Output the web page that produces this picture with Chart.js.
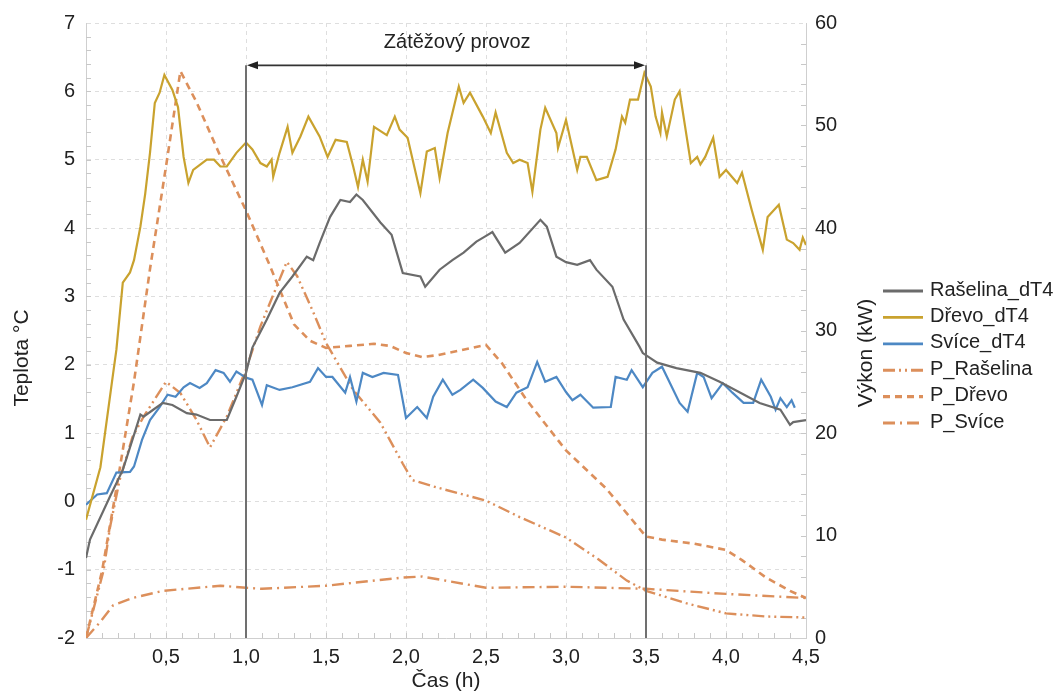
<!DOCTYPE html>
<html>
<head>
<meta charset="utf-8">
<script src="https://cdn.jsdelivr.net/npm/chart.js@4.4.1/dist/chart.umd.min.js"></script>
<style>
  html, body { margin: 0; padding: 0; background: #fff; }
  canvas { display: block; }
</style>
</head>
<body>
<canvas id="chart" width="1060" height="693"></canvas>
<script>
// čas (h) a hodnoty
const raselinaDT4 = [[0,-0.83],[0.025,-0.56],[0.15,0.07],[0.23,0.46],[0.29,0.9],[0.34,1.27],[0.36,1.24],[0.42,1.34],[0.48,1.44],[0.54,1.41],[0.63,1.29],[0.69,1.27],[0.775,1.19],[0.84,1.19],[0.88,1.19],[0.94,1.53],[1.0,1.88],[1.04,2.25],[1.13,2.66],[1.21,3.05],[1.29,3.29],[1.38,3.58],[1.42,3.53],[1.46,3.78],[1.525,4.16],[1.59,4.41],[1.65,4.38],[1.69,4.49],[1.73,4.41],[1.84,4.08],[1.91,3.9],[1.98,3.34],[2.09,3.29],[2.12,3.14],[2.21,3.39],[2.29,3.53],[2.36,3.64],[2.44,3.8],[2.49,3.87],[2.54,3.94],[2.62,3.64],[2.71,3.78],[2.84,4.12],[2.88,4.02],[2.94,3.58],[3.0,3.5],[3.07,3.46],[3.15,3.53],[3.19,3.39],[3.29,3.14],[3.36,2.66],[3.46,2.26],[3.48,2.17],[3.57,2.03],[3.69,1.95],[3.84,1.88],[3.96,1.75],[4.09,1.59],[4.21,1.44],[4.34,1.34],[4.4,1.12],[4.42,1.16],[4.5,1.19]];

const drevoDT4 = [[0,-0.27],[0.09,0.5],[0.17,1.88],[0.19,2.22],[0.23,3.2],[0.275,3.35],[0.3,3.53],[0.34,4.02],[0.37,4.5],[0.4,5.1],[0.43,5.83],[0.46,5.98],[0.49,6.24],[0.54,6.02],[0.575,5.77],[0.61,5.04],[0.64,4.66],[0.67,4.85],[0.755,5.0],[0.8,5.0],[0.84,4.9],[0.88,4.9],[0.94,5.1],[1.0,5.25],[1.04,5.15],[1.09,4.95],[1.13,4.9],[1.16,5.0],[1.17,4.75],[1.21,5.1],[1.26,5.48],[1.29,5.1],[1.34,5.34],[1.39,5.63],[1.46,5.34],[1.51,5.04],[1.56,5.29],[1.63,5.26],[1.67,4.9],[1.7,4.6],[1.73,5.0],[1.76,4.68],[1.8,5.48],[1.88,5.36],[1.93,5.63],[1.96,5.44],[2.01,5.32],[2.09,4.51],[2.13,5.12],[2.18,5.17],[2.21,4.73],[2.26,5.39],[2.33,6.07],[2.36,5.83],[2.4,5.98],[2.48,5.63],[2.53,5.39],[2.56,5.69],[2.63,5.1],[2.67,4.95],[2.71,5.0],[2.76,4.95],[2.79,4.53],[2.84,5.44],[2.87,5.76],[2.94,5.39],[2.95,5.17],[3.0,5.58],[3.07,4.85],[3.09,5.04],[3.13,5.04],[3.19,4.7],[3.26,4.75],[3.31,5.15],[3.35,5.63],[3.37,5.54],[3.4,5.88],[3.45,5.88],[3.49,6.27],[3.53,6.07],[3.56,5.63],[3.59,5.39],[3.6,5.69],[3.63,5.34],[3.68,5.88],[3.71,6.0],[3.78,4.95],[3.82,5.04],[3.84,4.93],[3.87,5.04],[3.92,5.32],[3.96,4.75],[4.0,4.85],[4.07,4.66],[4.1,4.81],[4.16,4.27],[4.23,3.68],[4.26,4.16],[4.33,4.34],[4.38,3.83],[4.42,3.78],[4.46,3.68],[4.48,3.86],[4.5,3.75]];

const sviceDT4 = [[0,-0.05],[0.07,0.1],[0.13,0.12],[0.19,0.42],[0.275,0.43],[0.3,0.51],[0.35,0.9],[0.4,1.19],[0.46,1.38],[0.51,1.56],[0.56,1.53],[0.61,1.67],[0.65,1.73],[0.71,1.66],[0.755,1.73],[0.81,1.92],[0.86,1.88],[0.9,1.75],[0.94,1.9],[1.0,1.81],[1.04,1.78],[1.1,1.41],[1.13,1.7],[1.21,1.63],[1.29,1.67],[1.4,1.75],[1.45,1.95],[1.5,1.82],[1.54,1.82],[1.62,1.59],[1.65,1.82],[1.69,1.46],[1.73,1.88],[1.79,1.82],[1.86,1.88],[1.95,1.85],[2.0,1.22],[2.07,1.38],[2.13,1.22],[2.17,1.53],[2.23,1.78],[2.29,1.56],[2.34,1.63],[2.42,1.78],[2.48,1.66],[2.56,1.46],[2.63,1.38],[2.69,1.59],[2.76,1.67],[2.82,2.04],[2.87,1.75],[2.94,1.82],[3.0,1.6],[3.04,1.48],[3.09,1.56],[3.17,1.37],[3.28,1.38],[3.31,1.82],[3.38,1.78],[3.41,1.92],[3.48,1.67],[3.54,1.88],[3.6,1.97],[3.71,1.44],[3.76,1.31],[3.82,1.88],[3.86,1.82],[3.91,1.51],[3.98,1.73],[4.04,1.59],[4.11,1.44],[4.17,1.44],[4.22,1.78],[4.28,1.53],[4.31,1.34],[4.34,1.51],[4.38,1.38],[4.41,1.48],[4.43,1.37]];

// výkon (kW)
const pRaselina = [[0,0],[0.11,6.6],[0.15,10.8],[0.21,15.4],[0.29,19.6],[0.36,21.6],[0.5,25],[0.59,23.9],[0.69,21.3],[0.775,18.6],[0.88,21.6],[1.0,26.2],[1.09,30.4],[1.15,32.7],[1.255,36.7],[1.32,35.3],[1.42,31.8],[1.5,28.8],[1.67,24.2],[1.84,21],[1.98,17],[2.04,15.4],[2.19,14.7],[2.5,13.4],[2.71,11.8],[3.0,9.8],[3.2,7.7],[3.38,5.6],[3.5,4.6],[3.75,3.4],[4.0,2.4],[4.25,2.1],[4.5,2.0]];

const pDrevo = [[0,0],[0.1,6.5],[0.2,15.5],[0.3,25],[0.4,36],[0.5,46],[0.59,55.3],[0.69,52.3],[0.84,47],[1.0,41.7],[1.15,36.3],[1.3,30.6],[1.4,29],[1.5,28.3],[1.65,28.5],[1.8,28.7],[1.9,28.5],[2.0,27.8],[2.1,27.4],[2.2,27.6],[2.35,28.1],[2.5,28.6],[2.6,26.8],[2.75,23.3],[3.0,18.3],[3.25,14.6],[3.5,9.9],[3.6,9.6],[3.8,9.2],[4.0,8.6],[4.1,7.6],[4.25,5.9],[4.4,4.6],[4.5,3.9]];

const pSvice = [[0,0],[0.08,1.4],[0.17,3.2],[0.29,3.9],[0.48,4.6],[0.84,5.1],[1.0,4.9],[1.1,4.8],[1.5,5.1],[1.98,5.9],[2.1,6.0],[2.5,4.9],[3.0,5.0],[3.5,4.8],[4.0,4.3],[4.5,3.9]];

const seriesNames = ['Rašelina_dT4', 'Dřevo_dT4', 'Svíce_dT4', 'P_Rašelina', 'P_Dřevo', 'P_Svíce'];

// zátěžový provoz: 1,0 h až 3,5 h
const zatezStart = 1.0;
const zatezEnd = 3.5;
const zatezLabel = 'Zátěžový provoz';

const FONT = 'Liberation Sans, Arial, sans-serif';
const ORANGE = '#dc8f5b';

function pts(arr) {
    return arr.map(p => ({ x: p[0], y: p[1] }));
}

function decimalComma(v) {
    if (Math.abs(v) < 1e-9) return '';
    return v.toFixed(1).replace('.', ',');
}

const datasets = [
    { label: seriesNames[0], data: pts(raselinaDT4), borderColor: '#6b6b6b', borderWidth: 2.2, yAxisID: 'y' },
    { label: seriesNames[1], data: pts(drevoDT4), borderColor: '#c9a22e', borderWidth: 2.2, yAxisID: 'y' },
    { label: seriesNames[2], data: pts(sviceDT4), borderColor: '#4d88c4', borderWidth: 2.2, yAxisID: 'y' },
    { label: seriesNames[3], data: pts(pRaselina), borderColor: ORANGE, borderWidth: 2.4, borderDash: [12, 4, 2, 4, 2, 4], yAxisID: 'y1' },
    { label: seriesNames[4], data: pts(pDrevo), borderColor: ORANGE, borderWidth: 2.6, borderDash: [7, 5], yAxisID: 'y1' },
    { label: seriesNames[5], data: pts(pSvice), borderColor: ORANGE, borderWidth: 2.4, borderDash: [12, 5, 2, 5], yAxisID: 'y1' }
];

// šipka a svislé čáry zátěžového provozu
const zatezPlugin = {
    id: 'zatez',
    afterDatasetsDraw(chart) {
        const { ctx, chartArea, scales } = chart;
        const x1 = scales.x.getPixelForValue(zatezStart);
        const x2 = scales.x.getPixelForValue(zatezEnd);
        const ya = scales.y.getPixelForValue(6.38);
        ctx.save();
        ctx.strokeStyle = '#707070';
        ctx.lineWidth = 2;
        ctx.beginPath();
        ctx.moveTo(x1, ya);
        ctx.lineTo(x1, chartArea.bottom);
        ctx.moveTo(x2, ya);
        ctx.lineTo(x2, chartArea.bottom);
        ctx.stroke();

        ctx.strokeStyle = '#333';
        ctx.lineWidth = 1.6;
        ctx.beginPath();
        ctx.moveTo(x1 + 4, ya);
        ctx.lineTo(x2 - 4, ya);
        ctx.stroke();

        ctx.fillStyle = '#222';
        ctx.beginPath();
        ctx.moveTo(x1 + 1, ya);
        ctx.lineTo(x1 + 12, ya - 4);
        ctx.lineTo(x1 + 12, ya + 4);
        ctx.closePath();
        ctx.fill();
        ctx.beginPath();
        ctx.moveTo(x2 - 1, ya);
        ctx.lineTo(x2 - 12, ya - 4);
        ctx.lineTo(x2 - 12, ya + 4);
        ctx.closePath();
        ctx.fill();

        ctx.font = '20px ' + FONT;
        ctx.textAlign = 'center';
        ctx.textBaseline = 'middle';
        ctx.fillStyle = '#222';
        ctx.fillText(zatezLabel, scales.x.getPixelForValue(2.32), scales.y.getPixelForValue(6.72));
        ctx.restore();
    }
};

// drobné značky na osách
const minorTicksPlugin = {
    id: 'minorTicks',
    beforeDatasetsDraw(chart) {
        const { ctx, chartArea, scales } = chart;
        ctx.save();
        ctx.strokeStyle = '#c8c8c8';
        ctx.lineWidth = 1;
        ctx.beginPath();
        for (let v = 0.1; v < 4.5; v += 0.1) {
            const px = Math.round(scales.x.getPixelForValue(v)) + 0.5;
            ctx.moveTo(px, chartArea.bottom);
            ctx.lineTo(px, chartArea.bottom - 5);
        }
        for (let v = -1.8; v < 7; v += 0.2) {
            const py = Math.round(scales.y.getPixelForValue(v)) + 0.5;
            ctx.moveTo(chartArea.left, py);
            ctx.lineTo(chartArea.left + 5, py);
        }
        for (let v = 2; v < 60; v += 2) {
            const py = Math.round(scales.y1.getPixelForValue(v)) + 0.5;
            ctx.moveTo(chartArea.right, py);
            ctx.lineTo(chartArea.right - 5, py);
        }
        ctx.stroke();
        ctx.restore();
    }
};

// popisky svislých os a legenda vpravo
const sideTextPlugin = {
    id: 'sideText',
    afterDraw(chart) {
        const { ctx, scales } = chart;
        ctx.save();
        ctx.fillStyle = '#222';
        ctx.font = '21px ' + FONT;
        ctx.textAlign = 'center';
        ctx.textBaseline = 'middle';
        ctx.translate(scales.y.left + 22, 358);
        ctx.rotate(-Math.PI / 2);
        ctx.fillText('Teplota °C', 0, 0);
        ctx.restore();

        ctx.save();
        ctx.fillStyle = '#222';
        ctx.font = '21px ' + FONT;
        ctx.textAlign = 'center';
        ctx.textBaseline = 'middle';
        ctx.translate(scales.y1.right - 14, 353);
        ctx.rotate(-Math.PI / 2);
        ctx.fillText('Výkon (kW)', 0, 0);
        ctx.restore();

        ctx.save();
        ctx.font = '20px ' + FONT;
        ctx.textBaseline = 'middle';
        ctx.textAlign = 'left';
        chart.data.datasets.forEach((ds, i) => {
            const yy = 291 + i * 26.4;
            ctx.strokeStyle = ds.borderColor;
            ctx.lineWidth = ds.borderWidth + 0.6;
            ctx.setLineDash(ds.borderDash || []);
            ctx.beginPath();
            ctx.moveTo(883, yy);
            ctx.lineTo(923, yy);
            ctx.stroke();
            ctx.setLineDash([]);
            ctx.fillStyle = '#222';
            ctx.fillText(ds.label, 930, yy - 1);
        });
        ctx.restore();
    }
};

new Chart(document.getElementById('chart'), {
    type: 'line',
    data: { datasets: datasets },
    options: {
        responsive: false,
        animation: false,
        layout: { padding: { top: 23, right: 180, left: 0, bottom: 0 } },
        elements: { point: { radius: 0 }, line: { tension: 0, fill: false } },
        plugins: { legend: { display: false }, tooltip: { enabled: false } },
        scales: {
            x: {
                type: 'linear',
                min: 0,
                max: 4.5,
                afterFit: s => { s.height = 55; },
                ticks: { stepSize: 0.5, autoSkip: false, maxRotation: 0, padding: 7, color: '#222', font: { family: FONT, size: 20 }, callback: v => decimalComma(v) },
                grid: { color: '#dedede', drawTicks: false, lineWidth: 1 },
                border: { color: '#cfcfcf', dash: [4, 4] },
                title: { display: true, text: 'Čas (h)', color: '#222', font: { family: FONT, size: 21 }, padding: { top: 0, bottom: -1 } }
            },
            y: {
                position: 'left',
                min: -2,
                max: 7,
                afterFit: s => { s.width = 86; },
                ticks: { stepSize: 1, padding: 11, color: '#222', font: { family: FONT, size: 20 } },
                grid: { color: '#dedede', drawTicks: false, lineWidth: 1 },
                border: { color: '#cfcfcf', dash: [4, 4] }
            },
            y1: {
                position: 'right',
                min: 0,
                max: 60,
                afterFit: s => { s.width = 74; },
                ticks: { stepSize: 10, padding: 9, color: '#222', font: { family: FONT, size: 20 } },
                grid: { drawOnChartArea: false, drawTicks: false },
                border: { color: '#cfcfcf' }
            }
        }
    },
    plugins: [minorTicksPlugin, zatezPlugin, sideTextPlugin]
});
</script>
</body>
</html>
